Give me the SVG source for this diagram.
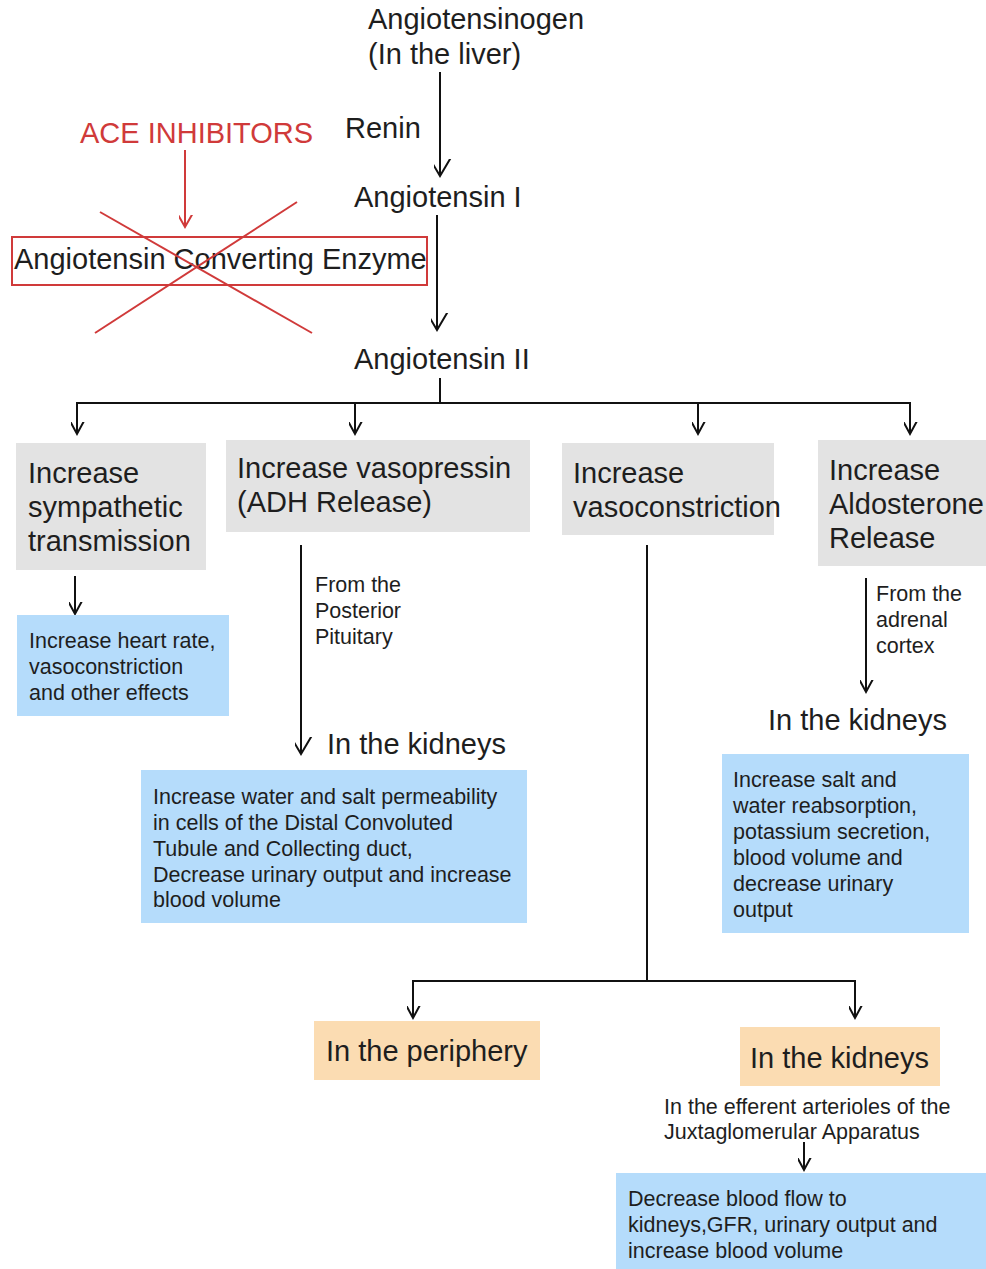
<svg xmlns="http://www.w3.org/2000/svg" width="986" height="1269" viewBox="0 0 986 1269">
<defs>
<marker id="vb" markerUnits="userSpaceOnUse" markerWidth="34" markerHeight="34" viewBox="-17 -28 34 34" refX="0" refY="0" orient="auto-start-reverse">
<path d="M-13,-22 L0,0 L13,-22" fill="none" stroke="#111" stroke-width="2" transform="rotate(-90)"/>
</marker>
<marker id="vs" markerUnits="userSpaceOnUse" markerWidth="24" markerHeight="24" viewBox="-12 -18 24 24" refX="0" refY="0" orient="auto">
<path d="M-7,-13 L0,0 L7,-13" fill="none" stroke="#111" stroke-width="2" transform="rotate(-90)"/>
</marker>
<marker id="vr" markerUnits="userSpaceOnUse" markerWidth="24" markerHeight="24" viewBox="-12 -18 24 24" refX="0" refY="0" orient="auto">
<path d="M-8,-14 L0,0 L8,-14" fill="none" stroke="#d03a3a" stroke-width="2" transform="rotate(-90)"/>
</marker>
</defs>
<style>
text{font-family:"Liberation Sans",Arial,sans-serif;fill:#1e1e1e}
.L{font-size:29px}
.M{font-size:21.5px}
.S{font-size:21.5px}
.red{fill:#d03a3a}
.gray{fill:#e3e3e3}
.blue{fill:#b5dcfb}
.org{fill:#fbdcb2}
.c{fill:none;stroke:#111;stroke-width:2}
</style>
<rect width="986" height="1269" fill="#fff"/>

<g id="connectors">
<line class="c" x1="440" y1="72" x2="440" y2="176" marker-end="url(#vb)"/>
<line class="c" x1="437" y1="215" x2="437" y2="330" marker-end="url(#vb)"/>
<line class="c" x1="440" y1="378" x2="440" y2="403"/>
<polyline class="c" points="77,432 77,403 910,403 910,432"/>
<line class="c" x1="77" y1="410" x2="77" y2="434" marker-end="url(#vs)"/>
<line class="c" x1="355" y1="403" x2="355" y2="434" marker-end="url(#vs)"/>
<line class="c" x1="698" y1="403" x2="698" y2="434" marker-end="url(#vs)"/>
<line class="c" x1="910" y1="410" x2="910" y2="434" marker-end="url(#vs)"/>
<line class="c" x1="75" y1="576" x2="75" y2="614" marker-end="url(#vs)"/>
<line class="c" x1="301" y1="545" x2="301" y2="754" marker-end="url(#vb)"/>
<line class="c" x1="866" y1="578" x2="866" y2="692" marker-end="url(#vs)"/>
<line class="c" x1="647" y1="545" x2="647" y2="981"/>
<polyline class="c" points="413,1012 413,981 855,981 855,1012"/>
<line class="c" x1="413" y1="990" x2="413" y2="1018" marker-end="url(#vs)"/>
<line class="c" x1="855" y1="990" x2="855" y2="1018" marker-end="url(#vs)"/>
<line class="c" x1="804" y1="1142" x2="804" y2="1170" marker-end="url(#vs)"/>
<line x1="185" y1="150" x2="185" y2="227" stroke="#d03a3a" stroke-width="2" marker-end="url(#vr)"/>
</g>

<g id="angiotensinogen">
<text class="L" x="368" y="29">Angiotensinogen</text>
<text class="L" x="368" y="64">(In the liver)</text>
</g>
<g id="renin"><text class="L" x="345" y="138">Renin</text></g>
<g id="angiotensin1"><text class="L" x="354" y="207">Angiotensin I</text></g>
<g id="angiotensin2"><text class="L" x="354" y="369">Angiotensin II</text></g>

<g id="ace-inhibitors"><text class="L red" x="80" y="143">ACE INHIBITORS</text></g>
<g id="ace">
<rect x="12" y="237" width="415" height="48" fill="none" stroke="#d03a3a" stroke-width="2"/>
<text class="L" x="14" y="269">Angiotensin Converting Enzyme</text>
<line x1="100" y1="212" x2="312" y2="333" stroke="#d03a3a" stroke-width="2"/>
<line x1="297" y1="202" x2="95" y2="333" stroke="#d03a3a" stroke-width="2"/>
</g>

<g id="sympathetic">
<rect class="gray" x="16" y="443" width="190" height="127"/>
<text class="L" x="28" y="483">Increase</text>
<text class="L" x="28" y="517">sympathetic</text>
<text class="L" x="28" y="551">transmission</text>
</g>
<g id="vasopressin">
<rect class="gray" x="226" y="440" width="304" height="92"/>
<text class="L" x="237" y="478">Increase vasopressin</text>
<text class="L" x="237" y="512">(ADH Release)</text>
</g>
<g id="vasoconstriction">
<rect class="gray" x="562" y="443" width="212" height="92"/>
<text class="L" x="573" y="483">Increase</text>
<text class="L" x="573" y="517">vasoconstriction</text>
</g>
<g id="aldosterone">
<rect class="gray" x="818" y="440" width="168" height="126"/>
<text class="L" x="829" y="480">Increase</text>
<text class="L" x="829" y="514">Aldosterone</text>
<text class="L" x="829" y="548">Release</text>
</g>

<g id="heart-rate">
<rect class="blue" x="17" y="615" width="212" height="101"/>
<text class="M" x="29" y="648">Increase heart rate,</text>
<text class="M" x="29" y="674">vasoconstriction</text>
<text class="M" x="29" y="700">and other effects</text>
</g>

<g id="posterior-pituitary">
<text class="S" x="315" y="592">From the</text>
<text class="S" x="315" y="618">Posterior</text>
<text class="S" x="315" y="644">Pituitary</text>
</g>
<g id="kidneys-adh"><text class="L" x="327" y="754">In the kidneys</text></g>
<g id="water-salt">
<rect class="blue" x="141" y="770" width="386" height="153"/>
<text class="M" x="153" y="804">Increase water and salt permeability</text>
<text class="M" x="153" y="830">in cells of the Distal Convoluted</text>
<text class="M" x="153" y="856">Tubule and Collecting duct,</text>
<text class="M" x="153" y="882">Decrease urinary output and increase</text>
<text class="M" x="153" y="907">blood volume</text>
</g>

<g id="adrenal-cortex">
<text class="S" x="876" y="601">From the</text>
<text class="S" x="876" y="627">adrenal</text>
<text class="S" x="876" y="653">cortex</text>
</g>
<g id="kidneys-aldo"><text class="L" x="768" y="730">In the kidneys</text></g>
<g id="reabsorption">
<rect class="blue" x="722" y="754" width="247" height="179"/>
<text class="M" x="733" y="787">Increase salt and</text>
<text class="M" x="733" y="813">water reabsorption,</text>
<text class="M" x="733" y="839">potassium secretion,</text>
<text class="M" x="733" y="865">blood volume and</text>
<text class="M" x="733" y="891">decrease urinary</text>
<text class="M" x="733" y="917">output</text>
</g>

<g id="periphery">
<rect class="org" x="314" y="1021" width="226" height="59"/>
<text class="L" x="326" y="1061">In the periphery</text>
</g>
<g id="kidneys-vaso">
<rect class="org" x="740" y="1027" width="200" height="59"/>
<text class="L" x="750" y="1068">In the kidneys</text>
</g>
<g id="efferent">
<text class="S" x="664" y="1114">In the efferent arterioles of the</text>
<text class="S" x="664" y="1139">Juxtaglomerular Apparatus</text>
</g>
<g id="blood-flow">
<rect class="blue" x="616" y="1173" width="370" height="96"/>
<text class="M" x="628" y="1206">Decrease blood flow to</text>
<text class="M" x="628" y="1232">kidneys,GFR, urinary output and</text>
<text class="M" x="628" y="1258">increase blood volume</text>
</g>
</svg>
